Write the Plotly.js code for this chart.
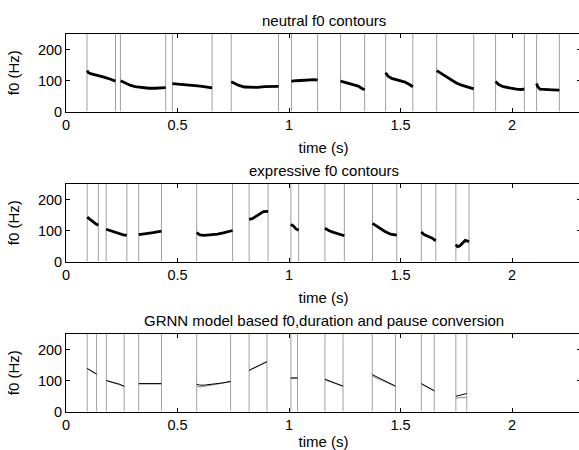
<!DOCTYPE html>
<html>
<head>
<meta charset="utf-8">
<script src="https://cdn.plot.ly/plotly-3.0.1.min.js"></script>
<style>
html,body{margin:0;padding:0;overflow:hidden;background:#fff;}
#chart{width:581px;height:450px;}
</style>
</head>
<body>
<div id="chart"></div>
<script>
// ---------- data ----------
const panelTitles = ["neutral f0 contours", "expressive f0 contours", "GRNN model based f0,duration and pause conversion"];
const xTickVals = [0, 0.5, 1, 1.5, 2];
const xTickText = ["0", "0.5", "1", "1.5", "2"];
const yTickVals = [0, 100, 200];
const yTickText = ["0", "100", "200"];

// segment boundaries (s)
const neutralBounds = [0.094,0.222, 0.244,0.447, 0.477,0.655, 0.741,0.953, 1.011,1.128, 1.231,1.339, 1.433,1.555, 1.662,1.828, 1.926,2.055, 2.110,2.212];
const expressiveBounds = [0.095,0.145, 0.180,0.273, 0.326,0.428, 0.586,0.747, 0.821,0.906, 1.008,1.043, 1.161,1.248, 1.374,1.483, 1.593,1.658, 1.748,1.807];
const grnnBounds = [0.095,0.137, 0.181,0.261, 0.326,0.428, 0.586,0.738, 0.821,0.901, 1.008,1.038, 1.161,1.242, 1.373,1.477, 1.593,1.651, 1.748,1.797];

// neutral f0 contours
const neutralT = [
  [0.094,0.100,0.110,0.140,0.170,0.200,0.222],
  [0.245,0.258,0.272,0.290,0.310,0.340,0.370,0.400,0.425,0.447],
  [0.477,0.500,0.530,0.550,0.570,0.590,0.610,0.635,0.655],
  [0.741,0.755,0.775,0.800,0.830,0.860,0.890,0.920,0.940,0.953],
  [1.011,1.020,1.050,1.080,1.100,1.115,1.128],
  [1.231,1.250,1.270,1.290,1.310,1.325,1.339],
  [1.433,1.445,1.460,1.490,1.520,1.540,1.555],
  [1.662,1.675,1.690,1.710,1.730,1.750,1.770,1.790,1.810,1.828],
  [1.926,1.940,1.960,1.990,2.020,2.040,2.055],
  [2.110,2.115,2.125,2.150,2.180,2.212]
];
const neutralF = [
  [132,126,122,117,111,104,98],
  [99,94,89,84,80,77,75,75,76,77],
  [90,89,88,86,85,83,81,78,76],
  [96,90,84,79,78,78,80,81,82,81],
  [97,99,100,101,102,103,101],
  [98,94,90,86,82,75,70],
  [125,113,107,100,95,87,80],
  [132,126,119,110,100,92,86,81,78,73],
  [97,87,80,75,72,71,72],
  [90,80,72,70,70,69]
];

// expressive f0 contours
const expressiveT = [
  [0.095,0.105,0.120,0.135,0.145],
  [0.180,0.200,0.220,0.240,0.260,0.273],
  [0.326,0.340,0.360,0.390,0.410,0.428],
  [0.586,0.600,0.620,0.650,0.680,0.710,0.747],
  [0.821,0.835,0.850,0.870,0.885,0.906],
  [1.008,1.020,1.030,1.043],
  [1.161,1.180,1.200,1.230,1.248],
  [1.374,1.390,1.410,1.430,1.455,1.483],
  [1.593,1.605,1.620,1.640,1.658],
  [1.748,1.755,1.765,1.780,1.790,1.800,1.807]
];
const expressiveF = [
  [143,137,129,121,117],
  [104,99,95,89,85,85],
  [87,89,90,93,95,98],
  [93,86,84,85,88,93,100],
  [136,138,145,155,161,162],
  [120,114,106,101],
  [107,99,94,87,83],
  [123,115,106,97,88,85],
  [95,87,82,76,67],
  [55,48,50,60,68,66,64]
];

// GRNN converted contours (black) and second contour (grey)
const grnnT = [
  [0.095,0.110,0.125,0.137],
  [0.181,0.210,0.240,0.261],
  [0.326,0.428],
  [0.586,0.600,0.620,0.660,0.700,0.738],
  [0.821,0.860,0.901],
  [1.008,1.038],
  [1.161,1.200,1.242],
  [1.373,1.420,1.477],
  [1.593,1.620,1.651],
  [1.748,1.797]
];
const grnnF = [
  [139,133,126,121],
  [100,95,88,81],
  [90,90],
  [88,85,85,88,92,97],
  [133,146,161],
  [108,108],
  [104,94,82],
  [119,102,82],
  [90,79,67],
  [49,58]
];
const grnnGreyT = [
  [0.095,0.137],
  [0.181,0.261],
  [0.326,0.428],
  [0.586,0.600,0.620,0.660,0.700,0.738],
  [0.821,0.901],
  [1.008,1.038],
  [1.161,1.242],
  [1.373,1.400,1.477],
  [1.593,1.651],
  [1.748,1.797]
];
const grnnGreyF = [
  [138,120],
  [99,82],
  [89,89],
  [82,79,81,86,91,96],
  [132,160],
  [108,108],
  [102,81],
  [114,106,81],
  [89,66],
  [43,46]
];

// ---------- helpers ----------
function joinSegs(ts, fs) {
  const x = [], y = [];
  ts.forEach((seg, i) => {
    seg.forEach((t, j) => { x.push(t); y.push(fs[i][j]); });
    x.push(null); y.push(null);
  });
  return {x, y};
}
function boundLines(bounds) {
  const x = [], y = [];
  bounds.forEach(b => { x.push(b, b, null); y.push(0, 250, null); });
  return {x, y};
}

const FONT = "Liberation Sans, Arial, Helvetica, sans-serif";
const TICK = 14.5, TXT = 15;
const traces = [];
const sets = [
  {bounds: neutralBounds, main: [neutralT, neutralF], width: 2.8},
  {bounds: expressiveBounds, main: [expressiveT, expressiveF], width: 2.8},
  {bounds: grnnBounds, main: [grnnT, grnnF], grey: [grnnGreyT, grnnGreyF], width: 1}
];
sets.forEach((s, i) => {
  const xa = i === 0 ? "x" : "x" + (i + 1);
  const ya = i === 0 ? "y" : "y" + (i + 1);
  const bl = boundLines(s.bounds);
  traces.push({x: bl.x, y: bl.y, xaxis: xa, yaxis: ya, mode: "lines",
    line: {color: "#a0a0a0", width: 1}, hoverinfo: "skip", showlegend: false});
  if (s.grey) {
    const g = joinSegs(s.grey[0], s.grey[1]);
    traces.push({x: g.x, y: g.y, xaxis: xa, yaxis: ya, mode: "lines",
      line: {color: "#8c8c8c", width: 1}, showlegend: false, connectgaps: false});
  }
  const m = joinSegs(s.main[0], s.main[1]);
  traces.push({x: m.x, y: m.y, xaxis: xa, yaxis: ya, mode: "lines",
    line: {color: "#000000", width: s.width}, showlegend: false, connectgaps: false});
});

const H = 450;
const tops = [34, 184, 334], bots = [111.5, 261.5, 411.5];
function xAxis(i) {
  return {
    domain: [0, 1], range: [0, 2.309], anchor: i === 0 ? "y" : "y" + (i + 1),
    tickvals: xTickVals, ticktext: xTickText, ticks: "inside", ticklen: 4, tickcolor: "#000",
    showline: true, linecolor: "#000", linewidth: 1, mirror: "ticks",
    showgrid: false, zeroline: false, tickfont: {family: FONT, size: TICK, color: "#000"},
    title: {text: "time (s)", font: {family: FONT, size: TXT, color: "#000"}, standoff: 10},
    automargin: false
  };
}
function yAxis(i) {
  return {
    domain: [1 - bots[i] / H, 1 - tops[i] / H], range: [0, 250], anchor: i === 0 ? "x" : "x" + (i + 1),
    tickvals: yTickVals, ticktext: yTickText, ticks: "inside", ticklen: 4, tickcolor: "#000",
    showline: true, linecolor: "#000", linewidth: 1, mirror: "ticks",
    showgrid: false, zeroline: false, tickfont: {family: FONT, size: TICK, color: "#000"},
    title: {text: "f0 (Hz)", font: {family: FONT, size: TXT, color: "#000"}, standoff: 14},
    automargin: false
  };
}
const layout = {
  width: 581, height: H,
  margin: {l: 66, r: 0, t: 0, b: 0},
  paper_bgcolor: "#fff", plot_bgcolor: "#fff",
  font: {family: FONT, size: TXT, color: "#000"},
  showlegend: false,
  xaxis: xAxis(0), xaxis2: xAxis(1), xaxis3: xAxis(2),
  yaxis: yAxis(0), yaxis2: yAxis(1), yaxis3: yAxis(2),
  annotations: panelTitles.map((t, i) => ({
    text: t, xref: "paper", yref: "paper", x: 0.5, y: 1 - (tops[i] - 13.5) / H,
    xanchor: "center", yanchor: "middle", showarrow: false,
    font: {family: FONT, size: TXT, color: "#000"}
  }))
};
Plotly.newPlot("chart", traces, layout, {staticPlot: true, displayModeBar: false});
</script>
</body>
</html>
